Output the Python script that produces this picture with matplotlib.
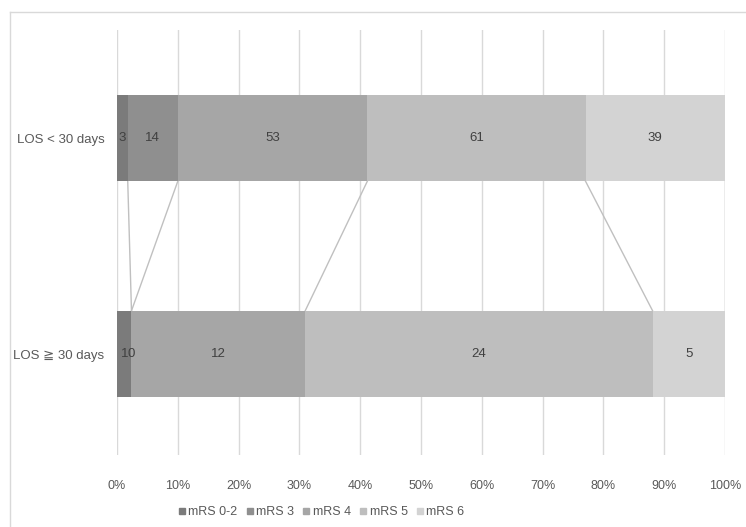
import numpy as np
import matplotlib
matplotlib.use('Agg')
from matplotlib import pyplot as plt
from matplotlib.lines import Line2D

# data: counts per mRS group for each length-of-stay group
groups = ['LOS ≧ 30 days', 'LOS < 30 days']
series_names = ['mRS 0-2', 'mRS 3', 'mRS 4', 'mRS 5', 'mRS 6']
counts_long = [1, 0, 12, 24, 5]
counts_short = [3, 14, 53, 61, 39]
colors = ['#7b7b7b', '#8f8f8f', '#a6a6a6', '#bebebe', '#d3d3d3']
x_ticks = [0, 10, 20, 30, 40, 50, 60, 70, 80, 90, 100]

plt.rcParams['font.family'] = ['Liberation Sans', 'DejaVu Sans']

counts = np.array([counts_long, counts_short], dtype=float)
pct = counts / counts.sum(axis=1, keepdims=True) * 100
cum = np.cumsum(pct, axis=1)
left = cum - pct

fig = plt.figure(figsize=(7.46, 5.27), dpi=100)
ax = fig.add_axes([117 / 746, 1 - 455 / 527, 608 / 746, 425 / 527])

bar_h = 0.4
ypos = np.arange(len(groups))
for i, name in enumerate(series_names):
    ax.barh(ypos, pct[:, i], left=left[:, i], height=bar_h,
            color=colors[i], label=name, zorder=3)
    for j in range(len(groups)):
        ax.text(left[j, i] + pct[j, i] / 2, ypos[j], f'{int(counts[j, i])}',
                ha='center', va='center', fontsize=9.5, color='#404040', zorder=4)

# series lines between the two bars
for i in range(len(series_names)):
    ax.plot([cum[1, i], cum[0, i]], [1 - bar_h / 2, bar_h / 2],
            color='#c0c0c0', lw=1, zorder=2)

ax.set_xlim(0, 100)
ax.set_ylim(-(455 - 354) / 216, 1 + (138 - 30) / 216)
ax.set_xticks(x_ticks)
ax.set_xticklabels([f'{t}%' for t in x_ticks], fontsize=9, color='#595959')
ax.set_yticks(ypos)
ax.set_yticklabels(groups, fontsize=9.5, color='#595959')
ax.tick_params(length=0, pad=18, axis='x')
ax.tick_params(length=0, pad=9, axis='y')
ax.grid(axis='x', color='#d9d9d9', lw=1, zorder=0)
for s in ax.spines.values():
    s.set_visible(False)

handles = [Line2D([], [], marker='s', ls='', color=c, markersize=5) for c in colors]
fig.legend(handles, series_names, loc='center', bbox_to_anchor=(320 / 746, 1 - 512 / 527),
           ncol=5, frameon=False, handletextpad=0.0, columnspacing=0.5,
           handlelength=1.0, labelcolor='#595959',
           prop={'family': ['Liberation Sans Narrow', 'Liberation Sans'], 'size': 9})

# outer frame lines
fig.add_artist(Line2D([10 / 746, 10 / 746], [0, 1 - 12 / 527], color='#d9d9d9', lw=1,
                      transform=fig.transFigure))
fig.add_artist(Line2D([10 / 746, 1], [1 - 12 / 527, 1 - 12 / 527], color='#d9d9d9', lw=1,
                      transform=fig.transFigure))

fig.savefig('out.png', dpi=100)
